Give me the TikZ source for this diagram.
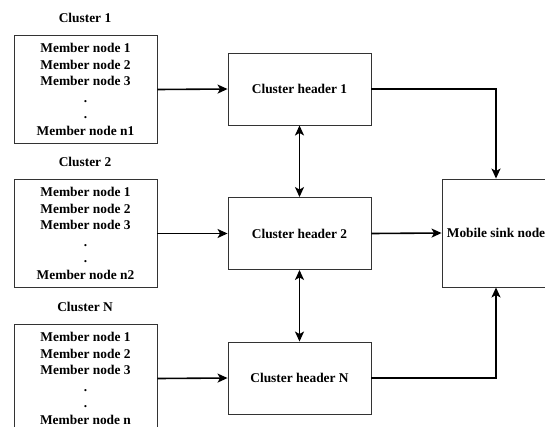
\documentclass[tikz,border=0pt]{standalone}
\usepackage{fontspec}
\setmainfont{Liberation Serif}
\usetikzlibrary{arrows.meta}
\begin{document}
\begin{tikzpicture}[x=1pt,y=-1pt,
  box/.style={draw=black!80,line width=0.9pt,align=center,inner sep=0pt,
    font=\bfseries\fontsize{13.4}{16.6}\selectfont},
  member/.style={box,minimum width=143pt,minimum height=108pt},
  header/.style={box,minimum width=143pt,minimum height=72pt},
  title/.style={font=\bfseries\fontsize{13.4}{16}\selectfont},
  link/.style={line width=1.6pt,-{Stealth[length=10pt,width=9pt,inset=2.5pt]}},
  both/.style={link,{Stealth[length=10pt,width=9pt,inset=2.5pt]}-{Stealth[length=10pt,width=9pt,inset=2.5pt]}}]

\useasboundingbox (0,0) rectangle (545,426);
\clip (0,0) rectangle (545,426);

% clusters
\node[title] (t1) at (85,18) {Cluster 1};
\node[member] (c1) at (85.5,89.5) {Member node 1\\Member node 2\\Member node 3\\.\\.\\Member node n1};
\node[title] (t2) at (85,162) {Cluster 2};
\node[member] (c2) at (85.5,233.5) {Member node 1\\Member node 2\\Member node 3\\.\\.\\Member node n2};
\node[title] (tn) at (85,307) {Cluster N};
\node[member] (cn) at (85.5,378.5) {Member node 1\\Member node 2\\Member node 3\\.\\.\\Member node n};

% headers
\node[header] (h1) at (299.5,89) {Cluster header 1};
\node[header] (h2) at (299.5,233.5) {Cluster header 2};
\node[header] (hn) at (299.5,378) {Cluster header N};

% sink
\node[box,minimum width=108pt,minimum height=108pt] (sink) at (496,233) {Mobile sink node};

\draw[link] (c1.east) -- (h1.west);
\draw[link] (c2.east) -- (h2.west);
\draw[link] (cn.east) -- (hn.west);
\draw[both] (h1.south) -- (h2.north);
\draw[both] (h2.south) -- (hn.north);
\draw[link] (h1.east) -| (sink.north);
\draw[link] (h2.east) -- (sink.west);
\draw[link] (hn.east) -| (sink.south);
\end{tikzpicture}
\end{document}
